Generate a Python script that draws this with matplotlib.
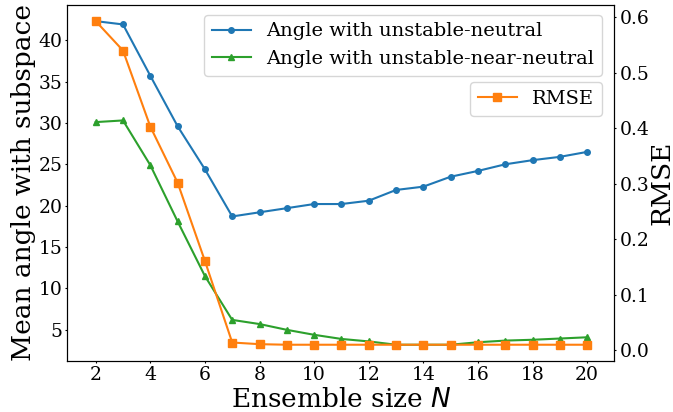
import numpy as np
import matplotlib.pyplot as plt

plt.rcParams['font.family'] = 'DejaVu Serif'
plt.rcParams['mathtext.fontset'] = 'dejavusans'

# Tamaños de ensemble
N = [2, 3, 4, 5, 6, 7, 8, 9, 10, 11, 12, 13, 14, 15, 16, 17, 18, 19, 20]

# Ángulos medios (grados)
ang_neutral = [42.3, 41.9, 35.7, 29.6, 24.4, 18.7, 19.2, 19.7, 20.2, 20.2, 20.6,
               21.9, 22.3, 23.5, 24.2, 25.0, 25.5, 25.9, 26.5]
ang_near = [30.1, 30.3, 24.9, 18.1, 11.5, 6.2, 5.7, 5.0, 4.4, 3.9, 3.6,
            3.2, 3.2, 3.2, 3.5, 3.7, 3.8, 3.95, 4.1]

# RMSE
rmse = [0.593, 0.540, 0.403, 0.302, 0.161, 0.014, 0.011, 0.010, 0.010, 0.010, 0.010,
        0.010, 0.010, 0.010, 0.010, 0.010, 0.010, 0.010, 0.010]

fig, ax1 = plt.subplots(figsize=(6.73, 4.12), dpi=100)
fig.subplots_adjust(left=0.1, right=0.913, top=0.988, bottom=0.124)

ax1.plot(N, ang_neutral, marker='o', markersize=4, color='tab:blue',
         label='Angle with unstable-neutral')
ax1.plot(N, ang_near, marker='^', markersize=4, color='tab:green',
         label='Angle with unstable-near-neutral')
ax1.set_xlabel('Ensemble size $N$', fontsize=19, labelpad=2)
ax1.set_ylabel('Mean angle with subspace', fontsize=19, labelpad=2)
ax1.set_xlim(0.96, 21.0)
ax1.set_xticks(range(2, 21, 2))
ax1.tick_params(labelsize=13.5, length=1.5, pad=2)
ax1.legend(loc='upper right', fontsize=14, bbox_to_anchor=(0.995, 1.0))

ax2 = ax1.twinx()
ax2.plot(N, rmse, marker='s', markersize=5.5, color='tab:orange', label='RMSE')
ax2.set_ylabel('RMSE', fontsize=19, labelpad=0)
ax2.tick_params(labelsize=13.5, length=1.5, pad=2)
ax2.legend(loc='upper right', fontsize=14, bbox_to_anchor=(0.995, 0.81))

plt.savefig('out.png', dpi=100)
